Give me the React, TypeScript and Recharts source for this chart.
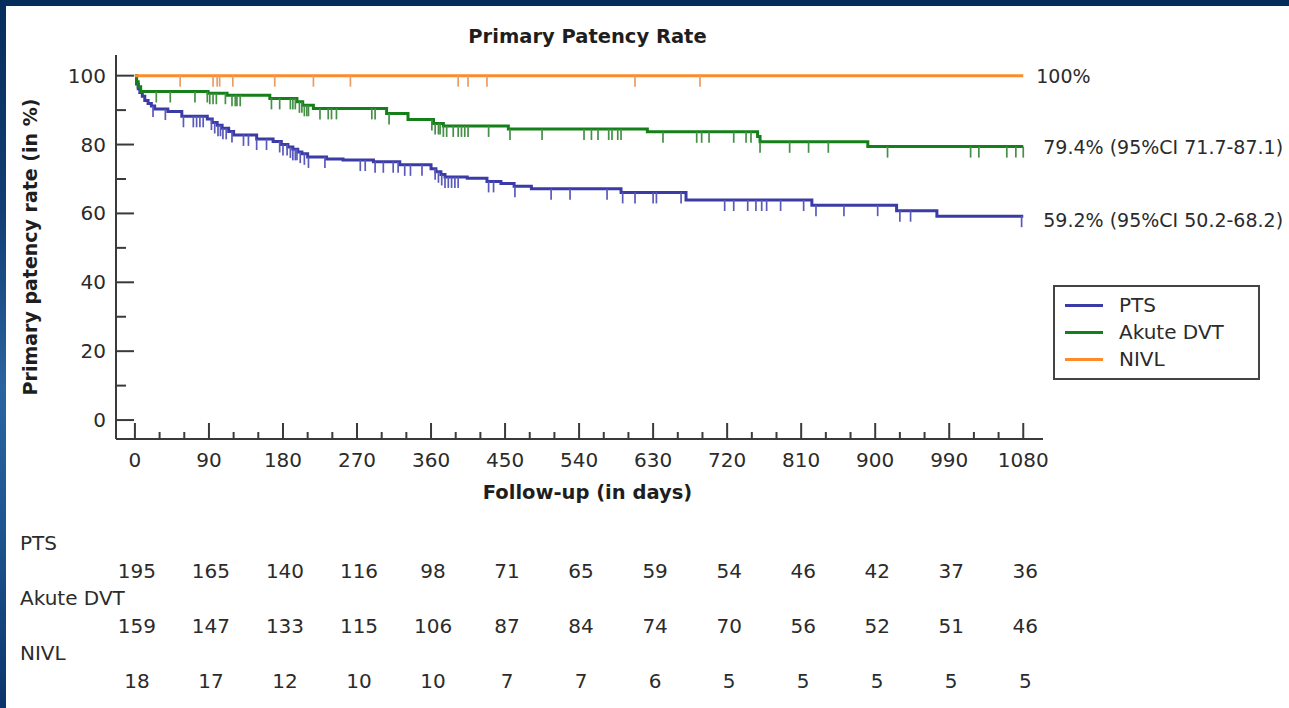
import React from 'react';
import {
  ComposedChart,
  Line,
  Scatter,
  XAxis,
  YAxis,
  Legend,
  ReferenceDot,
  Label,
} from 'recharts';

const FONT = '"DejaVu Sans", Verdana, sans-serif';
const INK = '#2b2b2b';
const AXIS = '#3a3a3a';

// Kaplan-Meier steps: day, rate (%)
const ptsSteps = [
  { day: 0, rate: 100 }, { day: 2, rate: 97.6 }, { day: 4, rate: 96.2 }, { day: 6, rate: 95.1 },
  { day: 9, rate: 94.0 }, { day: 12, rate: 92.8 }, { day: 16, rate: 91.9 }, { day: 20, rate: 91.2 },
  { day: 24, rate: 90.3 }, { day: 40, rate: 89.6 }, { day: 57, rate: 88.2 }, { day: 88, rate: 87.4 },
  { day: 94, rate: 86.4 }, { day: 100, rate: 85.6 }, { day: 106, rate: 84.7 }, { day: 114, rate: 83.8 },
  { day: 120, rate: 82.8 }, { day: 148, rate: 81.6 }, { day: 168, rate: 80.9 }, { day: 178, rate: 80.0 },
  { day: 186, rate: 79.3 }, { day: 192, rate: 78.6 }, { day: 198, rate: 77.8 }, { day: 203, rate: 77.3 },
  { day: 210, rate: 76.4 }, { day: 233, rate: 75.8 }, { day: 253, rate: 75.5 }, { day: 290, rate: 75.0 },
  { day: 322, rate: 74.1 }, { day: 360, rate: 73.0 }, { day: 366, rate: 72.1 }, { day: 372, rate: 71.3 },
  { day: 377, rate: 70.6 }, { day: 404, rate: 70.2 }, { day: 428, rate: 69.3 }, { day: 445, rate: 68.7 },
  { day: 461, rate: 67.9 }, { day: 482, rate: 67.2 }, { day: 591, rate: 66.1 }, { day: 670, rate: 63.9 },
  { day: 823, rate: 62.4 }, { day: 926, rate: 60.8 }, { day: 975, rate: 59.2 }, { day: 1080, rate: 59.2 },
];

const dvtSteps = [
  { day: 0, rate: 100 }, { day: 2, rate: 98.2 }, { day: 4, rate: 96.8 }, { day: 7, rate: 95.4 },
  { day: 89, rate: 94.9 }, { day: 112, rate: 94.3 }, { day: 164, rate: 93.4 }, { day: 197, rate: 92.4 },
  { day: 204, rate: 91.4 }, { day: 217, rate: 90.5 }, { day: 306, rate: 89.0 }, { day: 332, rate: 87.3 },
  { day: 363, rate: 86.1 }, { day: 375, rate: 85.4 }, { day: 454, rate: 84.5 }, { day: 623, rate: 83.7 },
  { day: 757, rate: 82.3 }, { day: 760, rate: 80.8 }, { day: 891, rate: 79.4 }, { day: 1080, rate: 79.4 },
];

const nivlSteps = [
  { day: 0, rate: 100 }, { day: 1080, rate: 100 },
];

// censored observations (days)
const ptsCensor = [
  22, 37, 59, 71, 75, 79, 83, 93, 97, 101, 104, 107, 111, 118, 132, 138, 148, 160, 176, 180, 185,
  189, 192, 195, 197, 201, 206, 211, 231, 274, 280, 292, 302, 314, 320, 328, 335, 349, 365, 369,
  373, 377, 381, 385, 389, 393, 430, 436, 462, 506, 529, 574, 593, 608, 630, 634, 664, 717, 728,
  745, 755, 762, 768, 785, 813, 828, 862, 903, 930, 943, 1078,
];
const dvtCensor = [
  26, 43, 73, 88, 91, 95, 99, 110, 118, 122, 124, 128, 166, 176, 189, 192, 195, 200, 203, 206, 209,
  211, 225, 235, 239, 245, 288, 292, 309, 361, 365, 369, 371, 375, 379, 387, 393, 397, 401, 405,
  430, 456, 495, 546, 555, 563, 576, 580, 587, 591, 642, 683, 689, 698, 728, 743, 749, 760, 796,
  819, 843, 915, 1016, 1026, 1060, 1071, 1080,
];
const nivlCensor = [55, 95, 100, 103, 119, 170, 217, 262, 393, 405, 428, 608, 687];

const xTicks = [
  0, 30, 60, 90, 120, 150, 180, 210, 240, 270, 300, 330, 360, 390, 420, 450, 480, 510, 540, 570,
  600, 630, 660, 690, 720, 750, 780, 810, 840, 870, 900, 930, 960, 990, 1020, 1050, 1080,
];
const yTicks = [0, 10, 20, 30, 40, 50, 60, 70, 80, 90, 100];

// numbers at risk
const riskDays = [0, 90, 180, 270, 360, 450, 540, 630, 720, 810, 900, 990, 1080];
const ptsRisk = [195, 165, 140, 116, 98, 71, 65, 59, 54, 46, 42, 37, 36];
const dvtRisk = [159, 147, 133, 115, 106, 87, 84, 74, 70, 56, 52, 51, 46];
const nivlRisk = [18, 17, 12, 10, 10, 7, 7, 6, 5, 5, 5, 5, 5];

const groups = [
  { name: 'PTS', steps: ptsSteps, censor: ptsCensor, risk: ptsRisk, color: '#3b3ba8', tick: '#5a5abb', end: '59.2% (95%CI 50.2-68.2)', dx: 20, dy: 4 },
  { name: 'Akute DVT', steps: dvtSteps, censor: dvtCensor, risk: dvtRisk, color: '#15801a', tick: '#468f46', end: '79.4% (95%CI 71.7-87.1)', dx: 20, dy: 0 },
  { name: 'NIVL', steps: nivlSteps, censor: nivlCensor, risk: nivlRisk, color: '#ff8a2a', tick: '#eb9c62', end: '100%', dx: 13, dy: 0 },
];

const toLine = (steps: { day: number; rate: number }[]) =>
  steps.map((s) => ({ day: s.day, value: s.rate }));

function rateAt(steps: { day: number; rate: number }[], day: number) {
  let r = steps[0].rate;
  for (const s of steps) if (s.day <= day) r = s.rate;
  return r;
}

const textStyle = { fontFamily: FONT, fontSize: 20, fill: INK };

// x tick: inward tick mark, day label, and the numbers at risk below it
const XTick = (props: any) => {
  const { x, y, payload } = props;
  const major = payload.value % 90 === 0;
  const i = riskDays.indexOf(payload.value);
  return (
    <g>
      <line x1={x} x2={x} y1={y} y2={y - (major ? 16 : 7)} stroke={AXIS} strokeWidth={2} />
      {major && (
        <text x={x} y={y + 28} textAnchor="middle" {...textStyle}>
          {payload.value}
        </text>
      )}
      {i >= 0 &&
        groups.map((g, k) => (
          <text key={g.name} x={x + 2} y={y + 139 + k * 55} textAnchor="middle" {...textStyle}>
            {g.risk[i]}
          </text>
        ))}
    </g>
  );
};

const YTick = (props: any) => {
  const { x, y, payload } = props;
  const major = payload.value % 20 === 0;
  return (
    <g>
      <line x1={x} x2={x + (major ? 18 : 10)} y1={y} y2={y} stroke={AXIS} strokeWidth={2} />
      {major && (
        <text x={x - 10} y={y + 7} textAnchor="end" {...textStyle}>
          {payload.value}
        </text>
      )}
    </g>
  );
};

const CensorMark = (color: string) => (props: any) => (
  <line x1={props.cx} x2={props.cx} y1={props.cy} y2={props.cy + 11} stroke={color} strokeWidth={1.7} />
);

const LegendBox = () => (
  <div
    style={{
      width: 207,
      height: 95,
      boxSizing: 'border-box',
      border: '2px solid #444',
      background: '#fff',
      paddingTop: 5,
      fontFamily: FONT,
      fontSize: 20,
      color: INK,
    }}
  >
    {groups.map((g) => (
      <div key={g.name} style={{ display: 'flex', alignItems: 'center', height: 27 }}>
        <span style={{ display: 'inline-block', width: 38, height: 3, background: g.color, marginLeft: 10, marginRight: 16 }} />
        <span style={{ lineHeight: '27px' }}>{g.name}</span>
      </div>
    ))}
  </div>
);

export default function App() {
  return (
    <div
      style={{
        position: 'absolute',
        left: 0,
        top: 0,
        width: 1289,
        height: 708,
        overflow: 'hidden',
        background: 'linear-gradient(180deg, #062c5c 0%, #123f74 30%, #2a64a0 55%, #1d5590 75%, #0b356a 100%)',
      }}
    >
      <div style={{ position: 'absolute', left: 6, top: 6, right: 0, bottom: 0, background: '#fff' }} />
      <div
        style={{
          position: 'absolute',
          left: 0,
          top: 27,
          width: 1175,
          textAlign: 'center',
          fontFamily: FONT,
          fontWeight: 'bold',
          fontSize: 19.5,
          lineHeight: '19px',
          color: '#1e1e1e',
        }}
      >
        Primary Patency Rate
      </div>
      <div style={{ position: 'absolute', left: 0, top: 0 }}>
        <ComposedChart width={1289} height={708} margin={{ top: 55, right: 246, bottom: 0, left: 0 }}>
          <XAxis
            dataKey="day"
            type="number"
            domain={[-23, 1104]}
            allowDataOverflow
            ticks={xTicks}
            interval={0}
            tickSize={0}
            tickMargin={0}
            tickLine={false}
            tick={<XTick />}
            axisLine={{ stroke: AXIS, strokeWidth: 2 }}
            height={269}
          >
            <Label
              content={(p: any) => (
                <g>
                  <text
                    x={p.viewBox.x + p.viewBox.width / 2 + 8}
                    y={p.viewBox.y + 60}
                    textAnchor="middle"
                    fontFamily={FONT}
                    fontWeight="bold"
                    fontSize={19.5}
                    fill="#1e1e1e"
                  >
                    Follow-up (in days)
                  </text>
                  {groups.map((g, i) => (
                    <text key={g.name} x={20} y={p.viewBox.y + 111 + i * 55} {...textStyle}>
                      {g.name}
                    </text>
                  ))}
                </g>
              )}
            />
          </XAxis>
          <YAxis
            dataKey="value"
            type="number"
            domain={[-5.5, 106]}
            allowDataOverflow
            ticks={yTicks}
            interval={0}
            tickSize={0}
            tickMargin={0}
            tickLine={false}
            tick={<YTick />}
            axisLine={{ stroke: AXIS, strokeWidth: 2 }}
            width={116}
          >
            <Label
              value="Primary patency rate (in %)"
              angle={-90}
              position="insideLeft"
              offset={30}
              style={{ textAnchor: 'middle', fontFamily: FONT, fontWeight: 'bold', fontSize: 19, fill: '#1e1e1e' }}
            />
          </YAxis>
          <Legend
            layout="horizontal"
            align="center"
            verticalAlign="middle"
            content={() => <LegendBox />}
            wrapperStyle={{ position: 'absolute', left: 1053, top: 285, width: 207, height: 95 }}
          />
          {groups.map((g) => (
            <Line
              key={g.name}
              data={toLine(g.steps)}
              dataKey="value"
              name={g.name}
              type="stepAfter"
              stroke={g.color}
              strokeWidth={3}
              dot={false}
              activeDot={false}
              isAnimationActive={false}
            />
          ))}
          {groups.map((g) => (
            <Scatter
              key={g.name + '-c'}
              data={g.censor.map((d) => ({ day: d, value: rateAt(g.steps, d) }))}
              shape={CensorMark(g.tick)}
              legendType="none"
              isAnimationActive={false}
            />
          ))}
          {groups.map((g) => (
            <ReferenceDot
              key={g.name + '-end'}
              x={1080}
              y={rateAt(g.steps, 1080)}
              r={0}
              ifOverflow="visible"
              label={(p: any) => (
                <text x={p.viewBox.x + g.dx} y={p.viewBox.y + 7 + g.dy} {...textStyle} fontSize={19}>
                  {g.end}
                </text>
              )}
            />
          ))}
        </ComposedChart>
      </div>
    </div>
  );
}
